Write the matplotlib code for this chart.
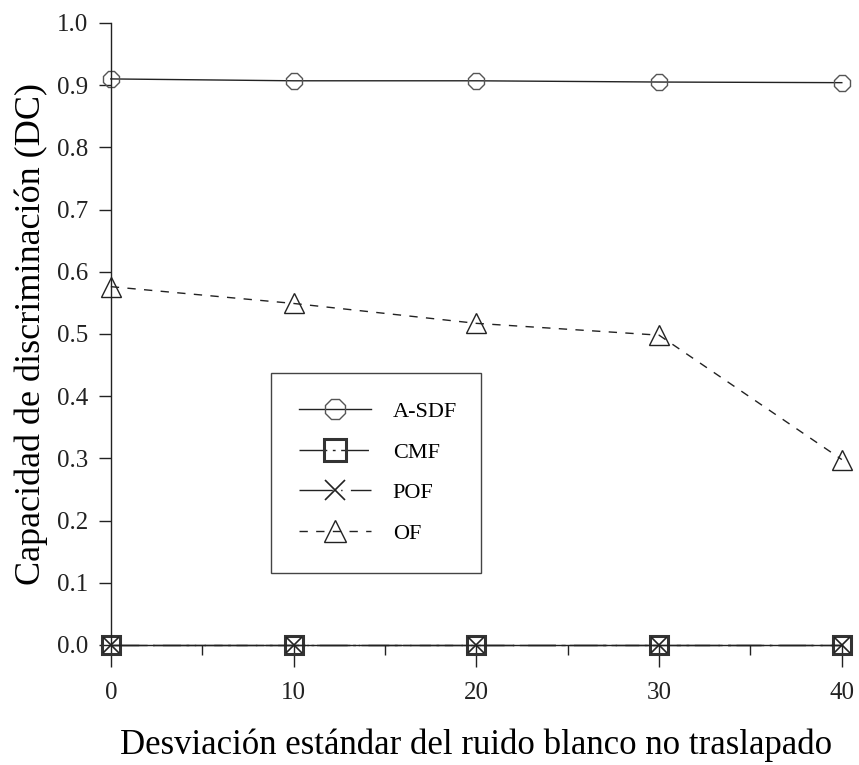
import matplotlib
matplotlib.use("Agg")
import matplotlib.pyplot as plt
from matplotlib.ticker import MultipleLocator, FormatStrFormatter

plt.rcParams["font.family"] = ["Liberation Serif", "DejaVu Serif"]

# noise standard deviation and discrimination capability per filter
sigma = [0, 10, 20, 30, 40]
dc_asdf = [0.910, 0.907, 0.907, 0.905, 0.904]
dc_cmf = [0.0, 0.0, 0.0, 0.0, 0.0]
dc_pof = [0.0, 0.0, 0.0, 0.0, 0.0]
dc_of = [0.576, 0.549, 0.517, 0.498, 0.298]

fig = plt.figure(figsize=(8.59, 7.65), dpi=100)
ax = fig.add_axes([0.129, 0.157, 0.851, 0.813])

ink = "#222222"
ax.plot(sigma, dc_asdf, color=ink, lw=1.0, marker="8", ms=12, mfc="none",
        mec="#555555", mew=1.0, clip_on=False, label="A-SDF")
ax.plot(sigma, dc_cmf, color=ink, lw=1.0, ls=(0, (20, 4, 2, 4)), marker="s",
        ms=13, mfc="none", mec="#333333", mew=2.2, clip_on=False, label="CMF")
ax.plot(sigma, dc_pof, color=ink, lw=1.0, ls=(0, (24, 6, 1, 6)), marker="x",
        ms=12, mec=ink, mew=1.2, clip_on=False, label="POF")
ax.plot(sigma, dc_of, color=ink, lw=1.0, ls=(0, (6, 6)), marker="^", ms=14,
        mfc="none", mec=ink, mew=1.0, clip_on=False, label="OF")

ax.set_xlim(0, 40)
ax.set_ylim(0, 1.0)
ax.xaxis.set_major_locator(MultipleLocator(10))
ax.xaxis.set_minor_locator(MultipleLocator(5))
ax.yaxis.set_major_locator(MultipleLocator(0.1))
ax.yaxis.set_major_formatter(FormatStrFormatter("%.1f"))

for side in ("top", "right"):
    ax.spines[side].set_visible(False)
for side in ("left", "bottom"):
    ax.spines[side].set_linewidth(1.0)
    ax.spines[side].set_color(ink)

ax.tick_params(axis="y", which="major", direction="out", length=9,
               width=1.0, labelsize=18, pad=7, colors=ink)
ax.tick_params(axis="x", which="major", direction="out", length=16,
               width=1.0, labelsize=18, pad=11, colors=ink)
ax.tick_params(axis="x", which="minor", direction="out", length=7, width=1.0,
               colors=ink)

ax.set_xlabel("Desviación estándar del ruido blanco no traslapado",
              fontsize=25, labelpad=17)
ax.set_ylabel("Capacidad de discriminación (DC)", fontsize=26, labelpad=7)

leg = ax.legend(loc="upper left", bbox_to_anchor=(0.315, 0.255, 0.245, 0.258),
                bbox_transform=fig.transFigure, mode="expand",
                frameon=True, fancybox=False, edgecolor="#444444",
                framealpha=1.0, fontsize=16, handlelength=3.2,
                labelspacing=0.9, borderpad=1.3, handletextpad=1.0,
                borderaxespad=0)
leg.get_frame().set_linewidth(1.0)
for handle, size in zip(leg.legend_handles, [16, 16, 15, 16]):
    handle.set_markersize(size)

fig.savefig("out.png", dpi=100, facecolor="white")
